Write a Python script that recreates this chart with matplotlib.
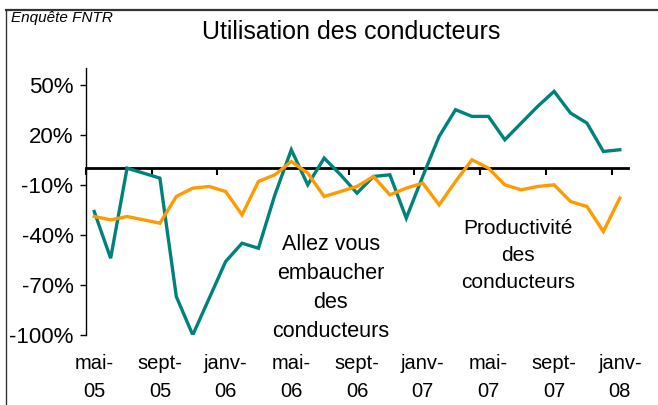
import matplotlib
matplotlib.use("Agg")
import matplotlib.pyplot as plt
from matplotlib.lines import Line2D

plt.rcParams['font.family'] = ['Liberation Sans', 'DejaVu Sans']

months = list(range(33))  # mai-05 .. janv-08
tick_labels = ["mai-\n05", "sept-\n05", "janv-\n06", "mai-\n06", "sept-\n06",
               "janv-\n07", "mai-\n07", "sept-\n07", "janv-\n08"]

embaucher = [-26, -54, 0, -3, -6, -77, -100, -78, -56, -45, -48, -16, 11, -10, 6, -4,
             -15, -5, -4, -30, -5, 19, 35, 31, 31, 17, 27, 37, 46, 33, 27, 10, 11]
productivite = [-29, -31, -29, -31, -33, -17, -12, -11, -14, -28, -8, -4, 4, -3, -17, -14,
                -11, -5, -16, -12, -9, -22, -8, 5, 0, -10, -13, -11, -10, -20, -23, -38, -18]

yticks = [-100, -70, -40, -10, 20, 50]

teal = "#00827C"
orange = "#FF9A00"

fig = plt.figure(figsize=(6.58, 4.05), dpi=100)
ax = fig.add_axes([86/658, 1-335/405, (628-86)/658, (335-68)/405])

ax.plot(months, embaucher, color=teal, lw=2.4, solid_joinstyle='miter', zorder=3)
ax.plot(months, productivite, color=orange, lw=2.4, solid_joinstyle='miter', zorder=3)

ax.set_xlim(-0.5, 32.5)
ax.set_ylim(-100, 60)

for s in ['top', 'right', 'bottom']:
    ax.spines[s].set_visible(False)
ax.spines['left'].set_linewidth(1.0)
ax.spines['left'].set_bounds(-100, 60)

ax.set_yticks(yticks)
ax.set_yticklabels([f"{v}%" for v in yticks])
ax.tick_params(axis='y', direction='out', length=4, width=1, labelsize=16, pad=5)

ax.set_xticks(months[::4])
ax.set_xticklabels(tick_labels)
ax.tick_params(axis='x', length=0, labelsize=14.5, pad=14)
for lbl in ax.get_xticklabels():
    lbl.set_linespacing(1.55)

sec = ax.secondary_xaxis(0, transform=ax.transData)
sec.spines['bottom'].set_linewidth(2.0)
sec.set_xticks([-0.5 + 4 * k for k in range(9)])
sec.set_xticklabels([])
sec.tick_params(axis='x', direction='out', length=5, width=1.5)

ax.text(14.4, -72, "Allez vous\nembaucher\ndes\nconducteurs", ha='center', va='center',
        fontsize=15.5, linespacing=1.5)
ax.text(25.8, -52.5, "Productivité\ndes\nconducteurs", ha='center', va='center',
        fontsize=15, linespacing=1.52)

fig.text(351/658, 1-32/405, "Utilisation des conducteurs", ha='center', va='center', fontsize=18)
fig.text(11/658, 1-18/405, "Enquête FNTR", ha='left', va='center', fontsize=11, style='italic')

fig.add_artist(Line2D([6/658, 1], [1-10/405, 1-10/405], transform=fig.transFigure,
                      color='#333333', lw=1.6))
fig.add_artist(Line2D([6/658, 6/658], [0, 1-10/405], transform=fig.transFigure,
                      color='#333333', lw=1.0))

fig.savefig("out.png", dpi=100)
